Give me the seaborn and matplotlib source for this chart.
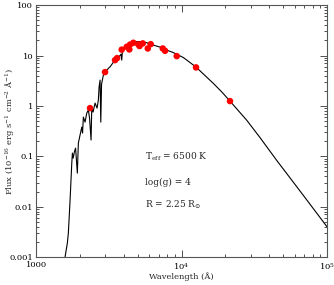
import numpy as np
import pandas as pd
import matplotlib
matplotlib.use("Agg")
import matplotlib.pyplot as plt
from matplotlib.ticker import LogLocator, NullFormatter, FixedLocator, FixedFormatter
import seaborn as sns

# model spectrum (wavelength in Angstrom, flux in 1e-16 units)
model_wave = [1582, 1641, 1667, 1713, 1760, 1777, 1800, 1834, 1869, 1922, 1953,
              2006, 2062, 2087, 2114, 2172, 2231, 2288, 2332, 2388, 2415, 2464,
              2545, 2626, 2680, 2711, 2754, 2785, 2820, 2901, 3004, 3140, 3227,
              3327, 3490, 3661, 3840, 3880, 3918, 4090, 4357, 4665, 5023, 5465,
              5884, 5980, 6050, 6400, 7115, 7910, 8744, 10290, 12580, 16540,
              18890, 21540, 28060, 34640, 45110, 68730, 100000]
model_flux = [0.001, 0.0019, 0.003, 0.0135, 0.0733, 0.1157, 0.092, 0.123, 0.1455,
              0.0464, 0.183, 0.264, 0.38, 0.289, 0.6, 0.477, 0.72, 0.826, 0.573,
              0.21, 0.946, 0.754, 1.137, 0.904, 1.30, 2.36, 3.25, 0.477, 2.7, 4.09,
              4.69, 5.55, 5.97, 6.75, 8.1, 8.88, 10.66, 8.1, 11.68, 14.9, 16.8,
              18.7, 18.9, 18.7, 17.6, 14.7, 17.2, 16.1, 14.7, 12.8, 11.5, 9.13,
              5.9, 2.8, 1.9, 1.245, 0.52, 0.235, 0.083, 0.0168, 0.0040]

# photometric points
phot_wave = [2350, 2980, 3490, 3603, 3880, 4200, 4378, 4427, 4665, 5048, 5146,
             5412, 5861, 6142, 7430, 7705, 9270, 12580, 21540]
phot_flux = [0.904, 4.69, 8.1, 8.88, 13.1, 14.9, 13.2, 16.5, 17.9, 16.6, 15.4,
             17.4, 13.8, 16.8, 13.8, 12.4, 9.73, 5.81, 1.245]

x_ticks = [1000, 10000, 100000]
x_ticklabels = ["1000", "10$^4$", "10$^5$"]
y_ticks = [0.001, 0.01, 0.1, 1, 10, 100]
y_ticklabels = ["0.001", "0.01", "0.1", "1", "10", "100"]

sns.set_style("ticks")
plt.rcParams["font.family"] = ["DejaVu Serif"]
plt.rcParams["mathtext.fontset"] = "dejavuserif"
plt.rcParams["xtick.direction"] = "in"
plt.rcParams["ytick.direction"] = "in"

model = pd.DataFrame({"wave": model_wave, "flux": model_flux})
phot = pd.DataFrame({"wave": phot_wave, "flux": phot_flux})

fig = plt.figure(figsize=(3.34, 2.85), dpi=100)
ax = fig.add_axes([0.108, 0.098, 0.871, 0.884])

sns.lineplot(data=model, x="wave", y="flux", sort=False, estimator=None,
             color="black", linewidth=0.8, ax=ax)
sns.scatterplot(data=phot, x="wave", y="flux", color="red", s=22,
                edgecolor="none", zorder=3, ax=ax)

ax.set_xscale("log")
ax.set_yscale("log")
ax.set_xlim(1000, 100000)
ax.set_ylim(0.001, 100)

ax.xaxis.set_major_locator(FixedLocator(x_ticks))
ax.xaxis.set_major_formatter(FixedFormatter(x_ticklabels))
ax.yaxis.set_major_locator(FixedLocator(y_ticks))
ax.yaxis.set_major_formatter(FixedFormatter(y_ticklabels))
ax.xaxis.set_minor_locator(LogLocator(base=10, subs=np.arange(2, 10)))
ax.yaxis.set_minor_locator(LogLocator(base=10, subs=np.arange(2, 10)))
ax.xaxis.set_minor_formatter(NullFormatter())
ax.yaxis.set_minor_formatter(NullFormatter())

ax.tick_params(which="both", top=True, right=True, labelsize=6, colors="#333333",
               labelcolor="black", width=0.6, pad=2)
ax.tick_params(axis="x", pad=3)
ax.tick_params(which="major", length=5)
ax.tick_params(which="minor", length=2.5)
for sp in ax.spines.values():
    sp.set_color("#555555")
    sp.set_linewidth(0.8)

ax.set_xlabel("Wavelength (Å)", fontsize=6, labelpad=0)
ax.set_ylabel("Flux (10$^{-16}$ erg s$^{-1}$ cm$^{-2}$ Å$^{-1}$)", fontsize=6)
ax.yaxis.set_label_coords(-0.07, 0.5)

ax.text(0.375, 0.40, r"T$_{\rm eff}$ = 6500 K", transform=ax.transAxes, fontsize=6.5, va="center")
ax.text(0.375, 0.297, "log(g) = 4", transform=ax.transAxes, fontsize=6.5, va="center")
ax.text(0.375, 0.206, r"R = 2.25 R$_{\odot}$", transform=ax.transAxes, fontsize=6.5, va="center")

plt.savefig("out.png", dpi=100)
